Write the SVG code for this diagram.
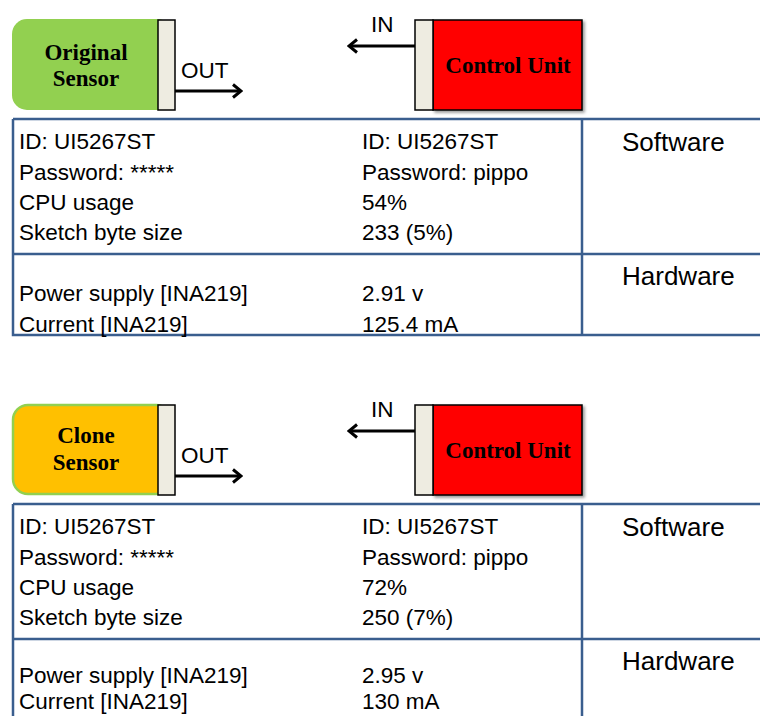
<svg xmlns="http://www.w3.org/2000/svg" width="760" height="716" viewBox="0 0 760 716">
<defs>
<style>
.sensor-label{font-family:"Liberation Serif","Times New Roman",serif;font-weight:bold;font-size:23px;fill:#000;text-anchor:middle}
.port{fill:#EEECE1;stroke:#000;stroke-width:1.5}
.cu{fill:#FF0000;stroke:#000;stroke-width:1.5}
.io{font-family:"Liberation Sans",Arial,sans-serif;font-size:22.5px;fill:#000}
.cell{font-family:"Liberation Sans",Arial,sans-serif;font-size:22.5px;fill:#000}
.hdr{font-family:"Liberation Sans",Arial,sans-serif;font-size:26px;fill:#000}
.grid{fill:none;stroke:#3A5E8E;stroke-width:2.5}
.wire{stroke:#000;stroke-width:3;fill:none}
</style>
<marker id="chev" viewBox="0 0 12 16" refX="10" refY="8" markerWidth="12" markerHeight="16" markerUnits="userSpaceOnUse" orient="auto">
<path d="M2,1.5 L10,8 L2,14.5" fill="none" stroke="#000" stroke-width="3"/>
</marker>
<filter id="sh" x="-10%" y="-10%" width="130%" height="130%">
<feDropShadow dx="2" dy="2" stdDeviation="1.5" flood-color="#000" flood-opacity="0.4"/>
</filter>
</defs>

<g id="section-original">
<g id="original-sensor">
<rect x="12" y="19" width="160" height="91" rx="15" ry="15" fill="#92D050"/>
<text class="sensor-label" x="86" y="60">Original</text>
<text class="sensor-label" x="86" y="86">Sensor</text>
</g>
<g id="original-sensor-port">
<rect class="port" x="158" y="20" width="17" height="90"/>
</g>
<g id="control-unit-1">
<rect class="cu" x="433" y="20" width="149" height="90" filter="url(#sh)"/>
<rect class="port" x="415" y="20" width="18" height="90"/>
<text class="sensor-label" x="508" y="73">Control Unit</text>
</g>
<g id="connectors-1">
<line class="wire" x1="175" y1="91" x2="241" y2="91" marker-end="url(#chev)"/>
<line class="wire" x1="415" y1="46" x2="349" y2="46" marker-end="url(#chev)"/>
</g>
<g id="io-labels-1">
<text class="io" x="181" y="78">OUT</text>
<text class="io" x="371" y="32">IN</text>
</g>
<g id="table-1">
<path class="grid" d="M13,119 H762 M13,119 V335 H762 M13,254 H762 M582,119 V335"/>
<text class="cell" x="19" y="149">ID: UI5267ST</text>
<text class="cell" x="19" y="180">Password: *****</text>
<text class="cell" x="19" y="210">CPU usage</text>
<text class="cell" x="19" y="240">Sketch byte size</text>
<text class="cell" x="362" y="149">ID: UI5267ST</text>
<text class="cell" x="362" y="180">Password: pippo</text>
<text class="cell" x="362" y="210">54%</text>
<text class="cell" x="362" y="240">233 (5%)</text>
<text class="hdr" x="622" y="151">Software</text>
<text class="cell" x="19" y="301">Power supply [INA219]</text>
<text class="cell" x="19" y="332">Current [INA219]</text>
<text class="cell" x="362" y="301">2.91 v</text>
<text class="cell" x="362" y="332">125.4 mA</text>
<text class="hdr" x="622" y="285">Hardware</text>
</g>
</g>

<g id="section-clone" transform="translate(0,385)">
<g id="clone-sensor">
<rect x="13" y="20" width="158" height="89" rx="15" ry="15" fill="#FFC000" stroke="#92D050" stroke-width="2.5"/>
<text class="sensor-label" x="86" y="58">Clone</text>
<text class="sensor-label" x="86" y="85">Sensor</text>
</g>
<g id="clone-sensor-port">
<rect class="port" x="158" y="20" width="17" height="90"/>
</g>
<g id="control-unit-2">
<rect class="cu" x="433" y="20" width="149" height="90" filter="url(#sh)"/>
<rect class="port" x="415" y="20" width="18" height="90"/>
<text class="sensor-label" x="508" y="73">Control Unit</text>
</g>
<g id="connectors-2">
<line class="wire" x1="175" y1="91" x2="241" y2="91" marker-end="url(#chev)"/>
<line class="wire" x1="415" y1="46" x2="349" y2="46" marker-end="url(#chev)"/>
</g>
<g id="io-labels-2">
<text class="io" x="181" y="78">OUT</text>
<text class="io" x="371" y="32">IN</text>
</g>
<g id="table-2">
<path class="grid" d="M13,119 H762 M13,119 V340 M13,254 H762 M582,119 V340"/>
<text class="cell" x="19" y="149">ID: UI5267ST</text>
<text class="cell" x="19" y="180">Password: *****</text>
<text class="cell" x="19" y="210">CPU usage</text>
<text class="cell" x="19" y="240">Sketch byte size</text>
<text class="cell" x="362" y="149">ID: UI5267ST</text>
<text class="cell" x="362" y="180">Password: pippo</text>
<text class="cell" x="362" y="210">72%</text>
<text class="cell" x="362" y="240">250 (7%)</text>
<text class="hdr" x="622" y="151">Software</text>
<text class="cell" x="19" y="298">Power supply [INA219]</text>
<text class="cell" x="19" y="324">Current [INA219]</text>
<text class="cell" x="362" y="298">2.95 v</text>
<text class="cell" x="362" y="324">130 mA</text>
<text class="hdr" x="622" y="285">Hardware</text>
</g>
</g>
</svg>
